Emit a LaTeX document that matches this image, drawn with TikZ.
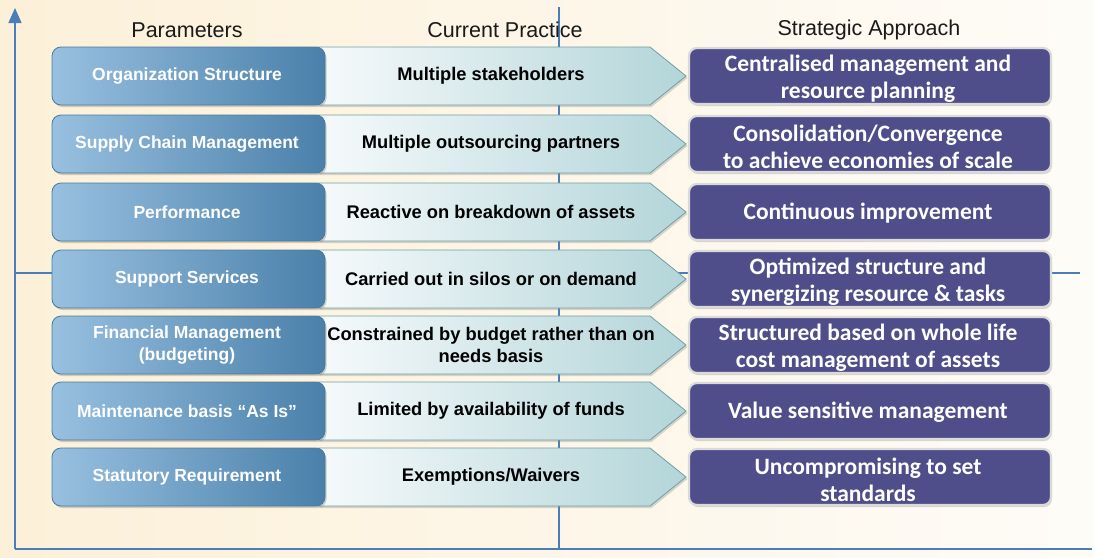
\documentclass[tikz,border=0pt]{standalone}
\usepackage{fontspec}
\setmainfont{Liberation Sans}
\newfontfamily\calib{Carlito}
\usetikzlibrary{arrows.meta,shadows}
\definecolor{axis}{HTML}{4A7EBB}
\definecolor{bgL}{HTML}{FCF0D8}
\definecolor{bgR}{HTML}{FEFCF8}
\definecolor{pL}{HTML}{98C0E0}
\definecolor{pR}{HTML}{4A80AA}
\definecolor{pEdge}{HTML}{4B7A9C}
\definecolor{cL}{HTML}{F6FAFB}
\definecolor{cR}{HTML}{B3D5D9}
\definecolor{cEdge}{HTML}{6F9FA3}
\definecolor{sP}{HTML}{4F4E8A}
\definecolor{sEdge}{HTML}{DADADA}
\definecolor{hdr}{HTML}{1A1A1A}
\tikzset{
  param/.style={rounded corners=9pt, minimum width=273pt, minimum height=58pt,
    draw=pEdge, line width=0.8pt, left color=pL, right color=pR,
    drop shadow={shadow xshift=1.5pt, shadow yshift=-2pt, opacity=0.35}},
  ptext/.style={text=white, font=\bfseries\fontsize{17.5}{22}\selectfont, align=center},
  chev/.style={draw=cEdge, line width=0.8pt, left color=cL, right color=cR,
    drop shadow={shadow xshift=1.5pt, shadow yshift=-2pt, opacity=0.3}},
  ctext/.style={text=black, font=\bfseries\fontsize{18.3}{22}\selectfont, align=center},
  strat/.style={rounded corners=8pt, minimum width=362pt, minimum height=56pt,
    fill=sP, draw=sEdge, line width=2.2pt,
    drop shadow={shadow xshift=1pt, shadow yshift=-2pt, opacity=0.3}},
  stext/.style={text=white, font=\calib\bfseries\fontsize{23.5}{27}\selectfont, align=center},
  hdrtext/.style={text=hdr, font=\fontsize{21.5}{23}\selectfont},
  axisline/.style={draw=axis, line width=1.3pt},
}
\begin{document}
\begin{tikzpicture}[x=1pt,y=-1pt]
\useasboundingbox (0,0) rectangle (1094,557);
\shade[left color=bgL, right color=bgR] (0,0) rectangle (1094,557);

% axes
\coordinate (o) at (15,549);
\coordinate (ytop) at (15,8);
\coordinate (xend) at (1092,549);
\coordinate (mtop) at (559,7);
\coordinate (mbot) at (559,549);
\coordinate (hl) at (15,273);
\coordinate (hr) at (1080,273);
\draw[axisline] (mtop) -- (mbot);
\draw[axisline] (hl) -- (hr);
\draw[axisline] (o) -- (xend);
\draw[axisline, -{Triangle[width=13pt,length=15pt]}] (o) -- (ytop);

% headers
\node[hdrtext] (h1) at (187,30) {Parameters};
\node[hdrtext] (h2) at (505,30) {Current Practice};
\node[hdrtext] (h3) at (869,30) {Strategic Approach};

% rows
\foreach \i/\y/\ptxt/\ctxt/\stxt/\sy in {
  1/76/{Organization Structure}/{Multiple stakeholders}/{Centralised management and\\resource planning}/79,
  2/144/{Supply Chain Management}/{Multiple outsourcing partners}/{Consolidation/Convergence\\to achieve economies of scale}/147,
  3/212/{Performance}/{Reactive on breakdown of assets}/{Continuous improvement}/213,
  4/279/{Support Services}/{Carried out in silos or on demand}/{Optimized structure and\\synergizing resource \& tasks}/281.5,
  5/345/{Financial Management\\(budgeting)}/{Constrained by budget rather than on\\needs basis}/{Structured based on whole life\\cost management of assets}/347.5,
  6/411/{Maintenance basis “As Is”}/{Limited by availability of funds}/{Value sensitive management}/412,
  7/477/{Statutory Requirement}/{Exemptions/Waivers}/{Uncompromising to set\\standards}/479.5}
{
  \path[chev] (318,\y-29) -- (650,\y-29) -- (686,\y) -- (650,\y+29) -- (318,\y+29) -- cycle;
  \node[ctext] (ct\i) at (491,\y) {\ctxt};
  \node[param] (p\i) at (188.5,\y) {};
  \node[ptext] (pt\i) at (187,\y) {\ptxt};
  \node[strat] (s\i) at (870,\y) {};
  \node[stext] (st\i) at (868,\sy) {\stxt};
}
\end{tikzpicture}
\end{document}
